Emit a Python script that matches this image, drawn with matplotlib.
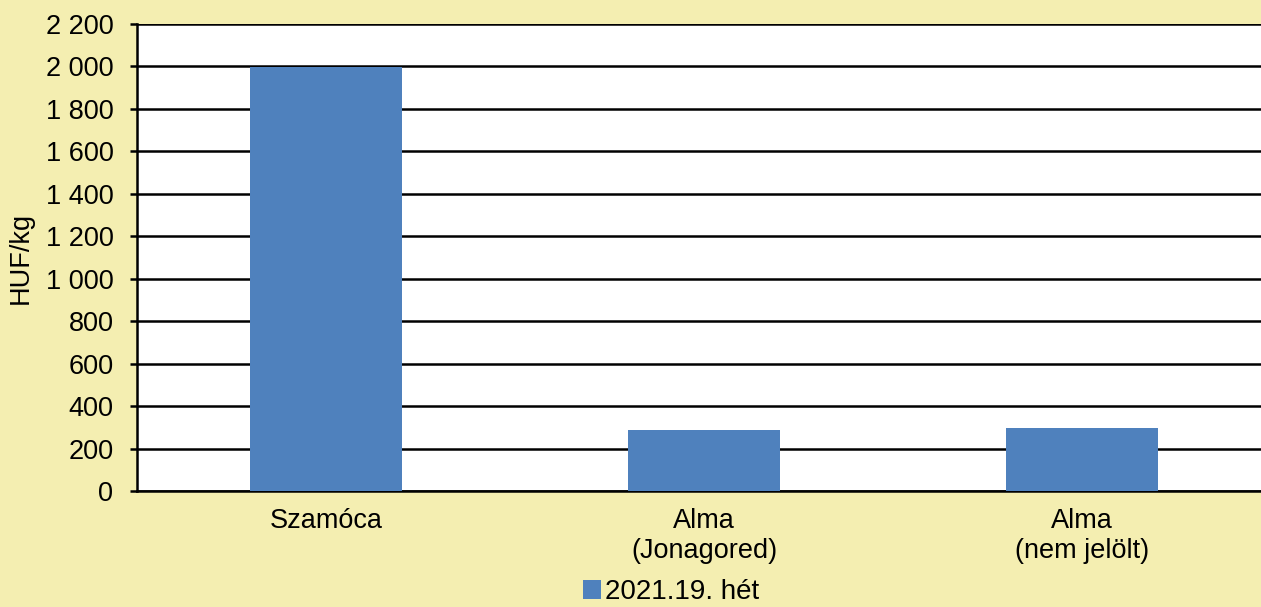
import matplotlib
matplotlib.use('Agg')
import matplotlib.pyplot as plt
from matplotlib.ticker import FuncFormatter, MultipleLocator

categories = ['Szamóca', 'Alma\n(Jonagored)', 'Alma\n(nem jelölt)']
prices = [1997, 288, 299]
series_name = '2021.19. hét'

bg = '#F4EEB1'
bar_color = '#4F81BD'

plt.rcParams['font.family'] = ['Liberation Sans', 'DejaVu Sans']
fs = 19.5

fig = plt.figure(figsize=(12.61, 6.07), dpi=100, facecolor=bg)
ax = fig.add_axes([137/1261, 116/607, 1134/1261, 467/607])
ax.set_facecolor('white')

x = range(len(categories))
ax.bar(x, prices, width=0.4, color=bar_color, label=series_name, zorder=3)

ax.set_xlim(-0.5, 2.5)
ax.set_ylim(0, 2200)
ax.yaxis.set_major_locator(MultipleLocator(200))
ax.yaxis.set_major_formatter(FuncFormatter(lambda v, p: '{:,}'.format(int(v)).replace(',', ' ')))
ax.grid(axis='y', color='black', linewidth=1.8, zorder=1)
ax.set_xticks(list(x))
ax.set_xticklabels(categories, fontsize=fs, linespacing=1.2)
ax.tick_params(axis='x', length=0, pad=12)
ax.tick_params(axis='y', labelsize=fs, length=5, width=1.8, pad=12)

for s in ['top', 'right']:
    ax.spines[s].set_visible(False)
ax.spines['left'].set_linewidth(1.8)
ax.spines['bottom'].set_linewidth(1.8)

ax.set_ylabel('HUF/kg', fontsize=fs)
ax.yaxis.set_label_coords(-0.091, 0.5)

fig.legend(loc='center', bbox_to_anchor=(0.532, 0.024), frameon=False, fontsize=fs + 0.5,
           handlelength=0.65, handleheight=0.65, handletextpad=0.15)

fig.savefig('out.png', dpi=100, facecolor=bg)
